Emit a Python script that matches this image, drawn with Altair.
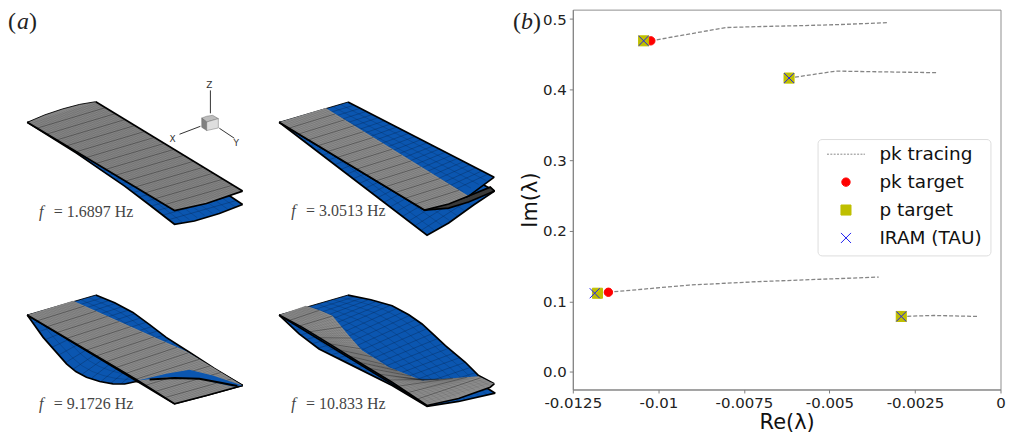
import altair as alt
import numpy as np
import pandas as pd

# ---------- panel (b): eigenvalue data ----------
tracing = {
    "upper": ([-0.01022, -0.00803, -0.00706, -0.0059, -0.00472, -0.00332], [0.4692, 0.488, 0.4894, 0.4906, 0.4922, 0.495]),
    "second": ([-0.00618, -0.00481, -0.00186], [0.4164, 0.4263, 0.424]),
    "third": ([-0.01146, -0.0091, -0.00706, -0.00356], [0.1129, 0.1231, 0.128, 0.1344]),
    "fourth": ([-0.0029, -0.00196, -0.00065], [0.0786, 0.08, 0.0786]),
}
pk_re = [-0.01022, -0.00618, -0.01146, -0.0029]
pk_im = [0.4692, 0.4164, 0.1129, 0.0786]
p_re = [-0.01043, -0.00618, -0.01178, -0.0029]
p_im = [0.4692, 0.4164, 0.1115, 0.0786]
iram_re = [-0.01043, -0.00618, -0.01186, -0.0029]
iram_im = [0.4692, 0.4164, 0.1115, 0.0786]
x_ticks = [-0.0125, -0.01, -0.0075, -0.005, -0.0025, 0]
y_ticks = [0.0, 0.1, 0.2, 0.3, 0.4, 0.5]
series_names = ["pk tracing", "pk target", "p target", "IRAM (TAU)"]
series_stroke = ["#8a8a8a", "#ff0000", "#bfbf00", "#2020f0"]
series_fill = ["transparent", "#ff0000", "#bfbf00", "transparent"]
series_shape = [
    "M-1.36,0H-1.22M-1.12,0H-.98M-.88,0H-.74M-.64,0H-.5M-.4,0H-.26M-.16,0H-.02M.08,0H.22M.32,0H.46M.56,0H.7M.8,0H.94M1.04,0H1.18M1.26,0H1.36",
    "M-.3,0A.3,.3,0,1,0,.3,0A.3,.3,0,1,0,-.3,0Z",
    "M-.36,-.36H.36V.36H-.36Z",
    "M-.36,-.36L.36,.36M-.36,.36L.36,-.36",
]

# ---------- panel (a): outlines of the wing renderings (drawing units) ----------
BLUE, GRAY = "#0b56b0", "#8c8c8c"
W1A, W1B, W1C, W1D = (27.3, 121), (96, 100.3), (243.3, 190), (175, 209.5)
W2A, W2B, W2C, W2D = (280, 121), (349, 100.7), (495.7, 176), (425.7, 209)
W3A, W3B, W3C, W3D = (27.3, 314.3), (96, 294.3), (243.3, 385), (175, 403.3)
W4A, W4B, W4C, W4D = (280, 314.3), (349, 294.3), (495.7, 383.3), (428.3, 405)

# each surface: level, fill, root edge, far edge, near edge, tip edge, span lines, chord lines
surfaces = [
    # lower surfaces
    (0, BLUE, [W1A, (96, 105)], [(96, 105), (243.3, 203.5)],
     [W1A, (77, 152), (100, 168), (125, 185), (150, 204), (175, 223.3)],
     [(175, 223.3), (195, 220), (220, 212.5), (243.3, 203.5)], 9, 24),
    (0, BLUE, [W2A, (349, 107)], [(349, 107), (496, 190)], [W2A, (428.3, 234.3)],
     [(428.3, 234.3), (450, 222), (475, 204), (496, 190)], 9, 24),
    (0, BLUE, [W3A, (96, 300)], [(96, 300), (243.3, 385)],
     [W3A, (35, 325), (43.3, 336.7), (55, 350), (66.7, 363.3), (76, 371), (86.7, 376.7), (100, 381), (113.3, 383.3), (125, 383.5), (136.7, 381), (243.3, 385)],
     [(243.3, 385)], 9, 24),
    (0, BLUE, [W4A, (349, 300)], [(349, 300), (496.7, 392.7)],
     [W4A, (300, 333.3), (320, 348.3), (350, 363.3), (393.3, 385), (428.3, 406)],
     [(428.3, 406), (460, 401), (496.7, 392.7)], 9, 24),
    # upper surfaces, blue side
    (1, "#3a3a3a", [(425.7, 209)], [(425.7, 209), (470, 195), (491.7, 186), (496, 190)], [(425.7, 209), (450, 207), (470, 201)], [(470, 201), (496, 190)], 0, 0),
    (1, BLUE, [W2A, W2B], [W2B, W2C], [W2A, W2D], [W2D, (470, 195), W2C], 9, 24),
    (1, BLUE, [W3A, W3B],
     [W3B, (115, 302), (133.3, 311.7), (150, 324), (166.7, 336.7), (190, 351.7), (215, 368), W3C],
     [W3A, W3D], [W3D, (207, 395), W3C], 9, 24),
    (1, BLUE, [W4A, W4B],
     [W4B, (372, 299), (393.3, 305), (410, 314), (423.3, 323.3), (436, 335), (446.7, 345), (466.7, 361.7), (480, 375), W4C],
     [W4A, W4D], [W4D, W4C], 9, 24),
    # upper surfaces, grey side
    (2, "#868686", [W1A, (45, 113.5), (63, 107.5), (80, 103), W1B], [W1B, W1C], [W1A, W1D], [W1D, (207, 202.5), W1C], 30, 15),
    (2, GRAY, [W2A, (326.7, 106.7)], [(326.7, 106.7), (470, 195)], [W2A, W2D], [W2D, (450, 203), (470, 195)], 18, 15),
    (2, GRAY, [W3A, (73.3, 300)], [(73.3, 300), (186.7, 350.7), W3C], [W3A, (138.3, 380), W3D], [W3D, (207, 395), W3C], 24, 15),
    (2, GRAY, [W4A, (306.7, 305)],
     [(306.7, 305), (321.7, 310), (333.3, 315), (350, 335), (363.3, 350), (390, 366.7), (423.3, 380), (480, 375.7), W4C],
     [W4A, (303.3, 326.7), (333.3, 345), (360, 361.7), (393.3, 381.7), W4D], [W4D, (460, 398), (491.7, 386.7), W4C], 14, 15),
    # fold on the third wing
    (3, BLUE, [(138.3, 380)], [(138.3, 380), (166.7, 373.3), (190, 369.3), (213.3, 375), W3C], [(138.3, 380), (166.7, 376.7), (200, 378.3), (233.3, 386)], [(233.3, 386), W3C], 0, 0),
]
fold_line_x = [150, 175, 200, 220, 238]
fold_line_y = [379, 377.5, 378.3, 382, 385.5]

triad_lines = {"z": ([211, 211], [112, 89]), "x": ([201, 180], [125, 133]), "y": ([220, 235], [127, 137])}
cube_faces = [
    ("#bdbdbd", [202.3, 207.3, 213.3, 219], [116.7, 114.9, 114, 117.3], [116.7, 120.7, 119, 117.3]),
    ("#808080", [202.3, 207.3], [116.7, 120.7], [126, 129.3]),
    ("#dedede", [207.3, 219], [120.7, 117.3], [129.3, 126.7]),
]
triad_text = ["Z", "X", "Y"]
triad_tx = [210, 173, 237]
triad_ty = [84, 138, 142]

freq_text = ["= 1.6897 Hz", "= 3.0513 Hz", "= 9.1726 Hz", "= 10.833 Hz"]
freq_fx = [39, 292, 39, 292]
freq_tx = [54, 307, 54, 307]
freq_y = [216, 215, 409, 409]

# ---------- build tables ----------
def along(pts, t):
    p = np.array(pts, float)
    d = np.r_[0, np.cumsum(np.hypot(*np.diff(p, axis=0).T))]
    s = t * d[-1]
    return np.interp(s, d, p[:, 0]), np.interp(s, d, p[:, 1])

def fill_rows(sid, level, col, root, far, near, tip):
    top = list(root) + list(far)
    bot = list(near) + list(tip)
    tx, ty = zip(*top)
    bx, by = zip(*bot)
    xs = sorted(set(tx) | set(bx))
    return [dict(sid=sid, level=level, c=col, x=x, y=float(np.interp(x, tx, ty)), y2=float(np.interp(x, bx, by))) for x in xs]

fills, meshes, edges = [], [], []
for k, (level, col, root, far, near, tip, nu, nv) in enumerate(surfaces):
    fills += fill_rows(k, level, col, root, far, near, tip)
    is_gray = col not in (BLUE, "#3a3a3a")
    ink = "#202020" if is_gray else "#06224a"
    # chord-wise lines: major ones, plus fine ones on the grey side
    sub = 4 if is_gray else 1
    for j in range(1, nv * sub):
        v = j / (nv * sub)
        major = j % sub == 0
        a, b = along(near, v), along(far, v)
        w, o = (0.7, 0.6) if major else (0.35, 0.22)
        if not is_gray:
            w, o = 0.5, 0.7
        meshes += [dict(level=level, sid=f"{k}c{j}", i=0, x=a[0], y=a[1], w=w, o=o, c=ink),
                   dict(level=level, sid=f"{k}c{j}", i=1, x=b[0], y=b[1], w=w, o=o, c=ink)]
    # span-wise lines
    for j in range(1, nu):
        u = j / nu
        for i in range(21):
            a, b = along(near, i / 20), along(far, i / 20)
            meshes.append(dict(level=level, sid=f"{k}s{j}", i=i, x=a[0] + u * (b[0] - a[0]), y=a[1] + u * (b[1] - a[1]),
                               w=0.4, o=0.3 if is_gray else 0.6, c=ink))
    if not (col == BLUE and level == 3):
        if level == 2 and col == GRAY:
            rings = [(near + tip, 1.6)]
        else:
            rings = [(root, 0.9), (far, 1.7), (near + tip, 1.7)]
        for r, (ring, wd) in enumerate(rings):
            for i, (x, y) in enumerate(ring):
                edges.append(dict(level=level, sid=f"{k}e{r}", i=i, x=x, y=y, w=wd))
for i, (x, y) in enumerate(zip(fold_line_x, fold_line_y)):
    edges.append(dict(level=3, sid="fold", i=i, x=x, y=y, w=2.0))

fills, meshes, edges = pd.DataFrame(fills), pd.DataFrame(meshes), pd.DataFrame(edges)

PANEL_W, PANEL_H = 490, 417
sx = alt.X("x:Q", axis=None, scale=alt.Scale(domain=[8, 8 + PANEL_W], nice=False, zero=False))
sy = alt.Y("y:Q", axis=None, scale=alt.Scale(domain=[8 + PANEL_H, 8], nice=False, zero=False))

left_layers = []
for level in range(4):
    f = fills[fills.level == level]
    m = meshes[meshes.level == level] if len(meshes) else meshes
    e = edges[edges.level == level]
    left_layers.append(alt.Chart(f).mark_area(opacity=1, interpolate="linear").encode(
        x=sx, y=sy, y2="y2:Q", detail="sid:N", fill=alt.Fill("c:N", scale=None)))
    if len(m):
        left_layers.append(alt.Chart(m).mark_line().encode(
            x=sx, y=sy, detail="sid:N", order="i:Q",
            stroke=alt.Stroke("c:N", scale=None),
            strokeWidth=alt.StrokeWidth("w:Q", scale=None),
            opacity=alt.Opacity("o:Q", scale=None)))
    if len(e):
        left_layers.append(alt.Chart(e).mark_line(color="black").encode(
            x=sx, y=sy, detail="sid:N", order="i:Q", strokeWidth=alt.StrokeWidth("w:Q", scale=None)))

# axis triad
t_rows = [dict(sid=k, i=i, x=x, y=y) for k, (xs, ys) in triad_lines.items() for i, (x, y) in enumerate(zip(xs, ys))]
left_layers.append(alt.Chart(pd.DataFrame(t_rows)).mark_line(color="#333333", strokeWidth=1).encode(x=sx, y=sy, detail="sid:N", order="i:Q"))
c_rows = [dict(sid=n, c=c, x=x, y=a, y2=b) for n, (c, xs, ya, yb) in enumerate(cube_faces) for x, a, b in zip(xs, ya, yb)]
left_layers.append(alt.Chart(pd.DataFrame(c_rows)).mark_area(opacity=1, stroke="#555555", strokeWidth=0.4).encode(
    x=sx, y=sy, y2="y2:Q", detail="sid:N", fill=alt.Fill("c:N", scale=None)))
left_layers.append(alt.Chart(pd.DataFrame(dict(t=triad_text, x=triad_tx, y=triad_ty))).mark_text(
    font="DejaVu Sans", fontSize=9, align="center", color="#333333").encode(x=sx, y=sy, text="t:N"))

# frequency captions
serif = "Liberation Serif"
left_layers.append(alt.Chart(pd.DataFrame(dict(t=["f"] * 4, x=freq_fx, y=freq_y))).mark_text(
    font=serif, fontSize=16, fontStyle="italic", align="left", baseline="alphabetic", color="#444444").encode(x=sx, y=sy, text="t:N"))
left_layers.append(alt.Chart(pd.DataFrame(dict(t=freq_text, x=freq_tx, y=freq_y))).mark_text(
    font=serif, fontSize=16, align="left", baseline="alphabetic", color="#444444").encode(x=sx, y=sy, text="t:N"))
# panel letter
for txt, x0, style in [("(", 8, "normal"), ("a", 17, "italic"), (")", 29, "normal")]:
    left_layers.append(alt.Chart(pd.DataFrame(dict(t=[txt], x=[x0], y=[27.5]))).mark_text(
        font=serif, fontSize=24, fontStyle=style, align="left", baseline="alphabetic", color="#222222").encode(x=sx, y=sy, text="t:N"))

left = alt.layer(*left_layers).properties(width=PANEL_W, height=PANEL_H, view=alt.ViewConfig(stroke=None))

# ---------- panel (b) ----------
X = alt.X("re:Q", title="Re(λ)", scale=alt.Scale(domain=[-0.0125, 0], nice=False, zero=False),
          axis=alt.Axis(values=x_ticks, labelExpr="toString(datum.value)", grid=False, tickSize=3.5, tickColor="#808080",
                        domainColor="#808080", labelFontSize=15, labelColor="#222222", labelFont="DejaVu Sans",
                        labelPadding=3, titleFontSize=21, titleFont="DejaVu Sans", titleFontWeight="normal",
                        titleColor="#111111", titlePadding=1, labelFlush=False, labelOverlap=False))
Y = alt.Y("im:Q", title="Im(λ)", scale=alt.Scale(domain=[-0.0249, 0.5134], nice=False, zero=False),
          axis=alt.Axis(values=y_ticks, format=".1f", grid=False, tickSize=3.5, tickColor="#808080",
                        domainColor="#808080", labelFontSize=15, labelColor="#222222", labelFont="DejaVu Sans",
                        labelPadding=3, titleFontSize=21, titleFont="DejaVu Sans", titleFontWeight="normal",
                        titleColor="#111111", titlePadding=2))

line_rows = [dict(sid=k, i=i, re=a, im=b) for k, (xs, ys) in tracing.items() for i, (a, b) in enumerate(zip(xs, ys))]
lines = alt.Chart(pd.DataFrame(line_rows)).mark_line(color="#858585", strokeWidth=1.3, strokeDash=[4, 2]).encode(
    x=X, y=Y, detail="sid:N", order="i:Q")

pts = pd.DataFrame(
    [dict(s="pk target", re=a, im=b) for a, b in zip(pk_re, pk_im)]
    + [dict(s="p target", re=a, im=b) for a, b in zip(p_re, p_im)]
    + [dict(s="IRAM (TAU)", re=a, im=b) for a, b in zip(iram_re, iram_im)]
)
SYM = 784
legend = alt.Legend(title=None, orient="none", legendX=826, legendY=130.5, padding=0,
                    labelFontSize=18.5, labelFont="DejaVu Sans",
                    labelColor="#111111", symbolSize=SYM, symbolStrokeWidth=1, symbolOpacity=1, labelOffset=19,
                    rowPadding=4, offset=0, symbolType="circle")
points = alt.Chart(pts).mark_point(opacity=1, size=SYM, strokeWidth=1).encode(
    x=X, y=Y,
    fill=alt.Fill("s:N", scale=alt.Scale(domain=series_names, range=series_fill), legend=legend),
    stroke=alt.Stroke("s:N", scale=alt.Scale(domain=series_names, range=series_stroke), legend=legend),
    shape=alt.Shape("s:N", scale=alt.Scale(domain=series_names, range=series_shape), legend=legend),
    order=alt.Order("idx:Q"),
).transform_calculate(idx="datum.s === 'pk target' ? 0 : datum.s === 'p target' ? 1 : 2")

legend_frame = alt.Chart(pd.DataFrame(dict(a=[0]))).mark_rect(
    fill="#ffffff", stroke="#dddddd", strokeWidth=1, cornerRadius=4).encode(
    x=alt.value(246), x2=alt.value(419.4), y=alt.value(130.3), y2=alt.value(247))

letter_layers = []
for txt, x0, style in [("(", -60, "normal"), ("b", -52, "italic"), (")", -40, "normal")]:
    letter_layers.append(alt.Chart(pd.DataFrame(dict(t=[txt]))).mark_text(
        font=serif, fontSize=24, fontStyle=style, align="left", baseline="alphabetic", color="#222222").encode(
        x=alt.value(x0), y=alt.value(19.5), text="t:N"))

right = alt.layer(lines, legend_frame, points, *letter_layers).properties(width=429, height=381, view=alt.ViewConfig(stroke="#8f8f8f"))

chart = alt.hconcat(left, right, spacing=12.5, padding=0).resolve_scale(x="independent", y="independent").configure_view(strokeWidth=1)
chart.save("out.html", embed_options={"renderer": "svg", "actions": False})
